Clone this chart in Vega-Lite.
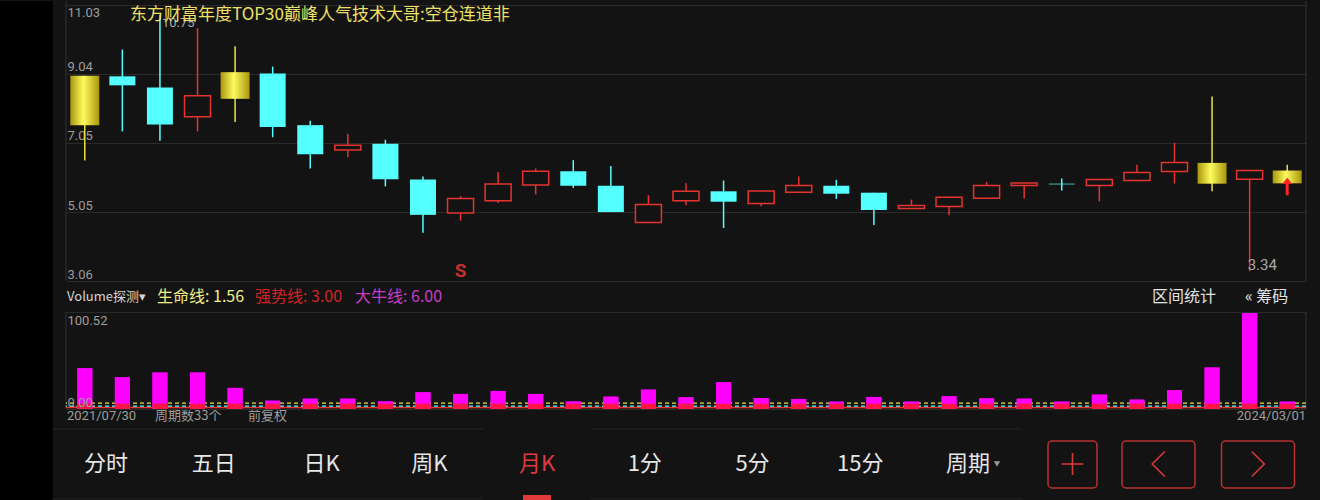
{
  "$schema": "https://vega.github.io/schema/vega-lite/v6.json",
  "background": "#131313",
  "padding": {"left": 0, "top": 0, "right": 14, "bottom": 0},
  "config": {
    "font": "Roboto",
    "view": {"stroke": null},
    "axis": {"labelFont": "Roboto", "labelFontSize": 13, "labelColor": "#9d9d9d", "ticks": false, "tickSize": 0, "domain": false, "gridColor": "#2a2a2a", "gridWidth": 1, "labelAlign": "left", "labelPadding": -1, "labelFlush": false, "labelOverlap": false},
    "text": {"font": "Noto Sans CJK SC"}
  },
  "datasets": {
    "candles": [
      {"idx": 1, "o": 7.56, "c": 8.99, "h": 8.99, "l": 6.54, "vol": 42.2, "kind": "gold"},
      {"idx": 2, "o": 8.97, "c": 8.71, "h": 9.74, "l": 7.38, "vol": 32.9, "kind": "down"},
      {"idx": 3, "o": 8.65, "c": 7.58, "h": 10.75, "l": 7.11, "vol": 37.8, "kind": "down"},
      {"idx": 4, "o": 7.80, "c": 8.41, "h": 10.36, "l": 7.38, "vol": 37.8, "kind": "up"},
      {"idx": 5, "o": 8.32, "c": 9.09, "h": 9.84, "l": 7.65, "vol": 21.9, "kind": "gold"},
      {"idx": 6, "o": 9.05, "c": 7.51, "h": 9.25, "l": 7.21, "vol": 8.6, "kind": "down"},
      {"idx": 7, "o": 7.56, "c": 6.72, "h": 7.69, "l": 6.31, "vol": 10.7, "kind": "down"},
      {"idx": 8, "o": 6.84, "c": 6.98, "h": 7.31, "l": 6.63, "vol": 10.7, "kind": "up"},
      {"idx": 9, "o": 7.02, "c": 6.00, "h": 7.14, "l": 5.79, "vol": 7.9, "kind": "down"},
      {"idx": 10, "o": 5.99, "c": 4.97, "h": 6.08, "l": 4.45, "vol": 17.3, "kind": "down"},
      {"idx": 11, "o": 5.02, "c": 5.44, "h": 5.51, "l": 4.80, "vol": 15.6, "kind": "up"},
      {"idx": 12, "o": 5.38, "c": 5.86, "h": 6.21, "l": 5.31, "vol": 18.7, "kind": "up"},
      {"idx": 13, "o": 5.83, "c": 6.23, "h": 6.31, "l": 5.56, "vol": 15.6, "kind": "up"},
      {"idx": 14, "o": 6.23, "c": 5.81, "h": 6.55, "l": 5.75, "vol": 7.9, "kind": "down"},
      {"idx": 15, "o": 5.81, "c": 5.05, "h": 6.38, "l": 5.05, "vol": 12.8, "kind": "down"},
      {"idx": 16, "o": 4.75, "c": 5.27, "h": 5.54, "l": 4.75, "vol": 20.1, "kind": "up"},
      {"idx": 17, "o": 5.38, "c": 5.65, "h": 5.88, "l": 5.25, "vol": 12.1, "kind": "up"},
      {"idx": 18, "o": 5.65, "c": 5.35, "h": 5.96, "l": 4.59, "vol": 27.7, "kind": "down"},
      {"idx": 19, "o": 5.30, "c": 5.66, "h": 5.66, "l": 5.22, "vol": 11.4, "kind": "up"},
      {"idx": 20, "o": 5.62, "c": 5.82, "h": 6.08, "l": 5.62, "vol": 10.4, "kind": "up"},
      {"idx": 21, "o": 5.81, "c": 5.58, "h": 5.98, "l": 5.43, "vol": 7.6, "kind": "down"},
      {"idx": 22, "o": 5.61, "c": 5.11, "h": 5.61, "l": 4.68, "vol": 12.5, "kind": "down"},
      {"idx": 23, "o": 5.15, "c": 5.24, "h": 5.41, "l": 5.15, "vol": 7.6, "kind": "up"},
      {"idx": 24, "o": 5.21, "c": 5.48, "h": 5.48, "l": 4.96, "vol": 13.1, "kind": "up"},
      {"idx": 25, "o": 5.45, "c": 5.82, "h": 5.92, "l": 5.45, "vol": 11.0, "kind": "up"},
      {"idx": 26, "o": 5.82, "c": 5.89, "h": 5.89, "l": 5.44, "vol": 10.7, "kind": "up"},
      {"idx": 27, "o": 5.87, "c": 5.85, "h": 6.02, "l": 5.67, "vol": 7.6, "kind": "down"},
      {"idx": 28, "o": 5.82, "c": 5.99, "h": 5.99, "l": 5.36, "vol": 14.9, "kind": "up"},
      {"idx": 29, "o": 5.96, "c": 6.19, "h": 6.42, "l": 5.94, "vol": 9.7, "kind": "up"},
      {"idx": 30, "o": 6.22, "c": 6.48, "h": 7.05, "l": 5.88, "vol": 19.4, "kind": "up"},
      {"idx": 31, "o": 5.87, "c": 6.47, "h": 8.39, "l": 5.65, "vol": 43.0, "kind": "gold"},
      {"idx": 32, "o": 6.00, "c": 6.25, "h": 6.25, "l": 3.34, "vol": 100.52, "kind": "up"},
      {"idx": 33, "o": 5.88, "c": 6.25, "h": 6.42, "l": 5.88, "vol": 7.6, "kind": "gold"}
    ],
    "lines": [
      {"name": "生命线", "v": 1.56},
      {"name": "强势线", "v": 3.00},
      {"name": "大牛线", "v": 6.00}
    ],
    "tabs": [
      {"tab": "分时"}, {"tab": "五日"}, {"tab": "日K"}, {"tab": "周K"}, {"tab": "月K"},
      {"tab": "1分"}, {"tab": "5分"}, {"tab": "15分"}, {"tab": "周期"}
    ],
    "buttons": [{"btn": "+"}, {"btn": "<"}, {"btn": ">"}]
  },
  "bounds": "flush",
  "spacing": 13,
  "hconcat": [
    {
      "width": 53,
      "height": 500,
      "view": {"fill": "#000000", "stroke": null},
      "data": {"values": []},
      "mark": "point"
    },
    {
      "bounds": "flush",
      "spacing": 31,
      "vconcat": [
        {
          "width": 1240,
          "height": 280,
          "data": {"name": "candles"},
          "layer": [
            {
              "mark": {"type": "rule", "strokeWidth": 1.5},
              "encoding": {
                "x": {"field": "idx", "type": "quantitative", "scale": {"domain": [0.5, 33.5], "nice": false, "zero": false, "padding": 0}, "axis": null},
                "y": {
                  "field": "l", "type": "quantitative",
                  "scale": {"domain": [3.06, 11.145], "nice": false, "zero": false, "padding": 0},
                  "axis": {
                    "values": [3.06, 5.05, 7.05, 9.04, 11.03], "format": ".2f", "grid": true, "title": null,
                    "labelBaseline": {"condition": {"test": "datum.value > 11", "value": "top"}, "value": "bottom"},
                    "labelOffset": {"condition": {"test": "datum.value > 11", "value": 2}, "value": 0}
                  }
                },
                "y2": {"field": "h"},
                "color": {"field": "kind", "type": "nominal", "scale": {"domain": ["up", "down", "gold"], "range": ["#e5332f", "#55ffff", "#ece23c"]}, "legend": null}
              }
            },
            {
              "data": {"values": [{}]},
              "mark": {"type": "rule", "color": "#333333", "strokeWidth": 1},
              "encoding": {"x": {"datum": 0.5, "type": "quantitative", "axis": null}}
            },
            {
              "data": {"values": [{}]},
              "mark": {"type": "rule", "color": "#333333", "strokeWidth": 1},
              "encoding": {"x": {"datum": 33.5, "type": "quantitative", "axis": null}}
            },
            {
              "transform": [{"filter": "datum.kind === 'down'"}],
              "mark": {"type": "bar", "width": 26, "color": "#55ffff"},
              "encoding": {
                "x": {"field": "idx", "type": "quantitative", "axis": null},
                "y": {"field": "o", "type": "quantitative"},
                "y2": {"field": "c"}
              }
            },
            {
              "transform": [{"filter": "datum.kind === 'up'"}],
              "mark": {"type": "bar", "width": 26, "fill": "#131313", "stroke": "#e5332f", "strokeWidth": 1.5},
              "encoding": {
                "x": {"field": "idx", "type": "quantitative", "axis": null},
                "y": {"field": "o", "type": "quantitative"},
                "y2": {"field": "c"}
              }
            },
            {
              "transform": [{"filter": "datum.kind === 'gold'"}],
              "mark": {
                "type": "bar", "width": 29,
                "fill": {"gradient": "linear", "x1": 0, "y1": 0, "x2": 1, "y2": 0,
                  "stops": [{"offset": 0, "color": "#a8960e"}, {"offset": 0.45, "color": "#fffb5c"}, {"offset": 1, "color": "#a8960e"}]}
              },
              "encoding": {
                "x": {"field": "idx", "type": "quantitative", "axis": null},
                "y": {"field": "o", "type": "quantitative"},
                "y2": {"field": "c"}
              }
            },
            {
              "transform": [{"joinaggregate": [{"op": "max", "field": "h", "as": "hmax"}]}, {"filter": "datum.h === datum.hmax"}],
              "mark": {"type": "text", "align": "left", "baseline": "top", "dx": 2, "dy": 2, "font": "Roboto", "fontSize": 13, "color": "#a8a8a8"},
              "encoding": {
                "x": {"field": "idx", "type": "quantitative", "axis": null},
                "y": {"field": "h", "type": "quantitative"},
                "text": {"field": "h", "type": "quantitative", "format": ".2f"}
              }
            },
            {
              "transform": [{"joinaggregate": [{"op": "min", "field": "l", "as": "lmin"}]}, {"filter": "datum.l === datum.lmin"}],
              "mark": {"type": "text", "align": "left", "baseline": "bottom", "dx": -2, "dy": 2, "font": "Roboto", "fontSize": 15, "color": "#a8a8a8"},
              "encoding": {
                "x": {"field": "idx", "type": "quantitative", "axis": null},
                "y": {"field": "l", "type": "quantitative"},
                "text": {"field": "l", "type": "quantitative", "format": ".2f"}
              }
            },
            {
              "data": {"values": [{}]},
              "mark": {"type": "text", "text": "S", "font": "Roboto", "fontSize": 19, "fontWeight": "bold", "color": "#c8302c", "baseline": "middle"},
              "encoding": {
                "x": {"datum": 11, "type": "quantitative", "axis": null},
                "y": {"datum": 3.348, "type": "quantitative"}
              }
            },
            {
              "data": {"values": [{}]},
              "mark": {"type": "point", "shape": "M0,-1L0.6,-0.3L0.17,-0.3L0.17,1L-0.17,1L-0.17,-0.3L-0.6,-0.3Z", "size": 300, "filled": true, "color": "#ff2626", "opacity": 1},
              "encoding": {
                "x": {"datum": 33, "type": "quantitative", "axis": null},
                "y": {"datum": 5.788, "type": "quantitative"}
              }
            },
            {
              "data": {"values": [{}]},
              "mark": {"type": "text", "text": "东方财富年度TOP30巅峰人气技术大哥:空仓连道非", "align": "left", "baseline": "middle", "fontSize": 17, "color": "#efe166"},
              "encoding": {
                "x": {"datum": 2.203, "type": "quantitative", "axis": null},
                "y": {"datum": 10.741, "type": "quantitative"}
              }
            }
          ]
        },
        {
          "bounds": "flush",
          "spacing": 22,
          "vconcat": [
            {
              "width": 1240,
              "height": 97,
              "data": {"name": "candles"},
              "layer": [
                {
                  "mark": {"type": "bar", "width": 15, "color": "#ff00ff"},
                  "encoding": {
                    "x": {"field": "idx", "type": "quantitative", "scale": {"domain": [0.5, 33.5], "nice": false, "zero": false, "padding": 0}, "axis": null},
                    "y": {
                      "field": "vol", "type": "quantitative",
                      "scale": {"domain": [0, 100.52], "nice": false, "zero": true, "padding": 0},
                      "axis": {
                        "values": [0, 100.52], "format": ".2f", "grid": true, "title": null, "zindex": 1,
                        "labelBaseline": {"condition": {"test": "datum.value > 50", "value": "top"}, "value": "bottom"},
                        "labelOffset": {"condition": {"test": "datum.value > 50", "value": 2}, "value": 0}
                      }
                    }
                  }
                },
                {
                  "data": {"values": [{}]},
                  "mark": {"type": "rule", "color": "#333333", "strokeWidth": 1},
                  "encoding": {"x": {"datum": 0.5, "type": "quantitative", "axis": null}}
                },
                {
                  "data": {"values": [{}]},
                  "mark": {"type": "rule", "color": "#333333", "strokeWidth": 1},
                  "encoding": {"x": {"datum": 33.5, "type": "quantitative", "axis": null}}
                },
                {
                  "data": {"name": "lines"},
                  "mark": {"type": "rule", "strokeWidth": 1.3},
                  "encoding": {
                    "y": {"field": "v", "type": "quantitative"},
                    "color": {"field": "name", "type": "nominal", "scale": {"domain": ["生命线", "强势线", "大牛线"], "range": ["#e0a628", "#c82828", "#d0a0d0"]}, "legend": null},
                    "strokeDash": {"field": "name", "type": "nominal", "scale": {"domain": ["生命线", "强势线", "大牛线"], "range": [[1, 0], [4, 3], [4, 3]]}, "legend": null}
                  }
                },
                {
                  "mark": {"type": "bar", "width": 15, "color": "#ff00ff"},
                  "encoding": {
                    "x": {"field": "idx", "type": "quantitative", "axis": null},
                    "y": {"field": "vol", "type": "quantitative"}
                  }
                },
                {
                  "mark": {"type": "bar", "width": 15, "color": "#ff1448"},
                  "encoding": {
                    "x": {"field": "idx", "type": "quantitative", "axis": null},
                    "y": {"datum": 5.5, "type": "quantitative"},
                    "y2": {"datum": 0}
                  }
                },
                {
                  "data": {"values": [{}]},
                  "mark": {"type": "text", "text": "Volume探测▾", "align": "left", "baseline": "middle", "dx": 1, "fontSize": 13, "color": "#d6d6d6"},
                  "encoding": {
                    "x": {"datum": 0.5, "type": "quantitative", "axis": null},
                    "y": {"datum": 116, "type": "quantitative"}
                  }
                },
                {
                  "data": {"name": "lines"},
                  "transform": [{"filter": "datum.name === '生命线'"}, {"calculate": "datum.name + ': ' + format(datum.v, '.2f')", "as": "label"}],
                  "mark": {"type": "text", "align": "left", "baseline": "middle", "fontSize": 16, "color": "#f2ef86"},
                  "encoding": {
                    "x": {"datum": 2.922, "type": "quantitative", "axis": null},
                    "y": {"datum": 116, "type": "quantitative"},
                    "text": {"field": "label"}
                  }
                },
                {
                  "data": {"name": "lines"},
                  "transform": [{"filter": "datum.name === '强势线'"}, {"calculate": "datum.name + ': ' + format(datum.v, '.2f')", "as": "label"}],
                  "mark": {"type": "text", "align": "left", "baseline": "middle", "fontSize": 16, "color": "#cf2424"},
                  "encoding": {
                    "x": {"datum": 5.53, "type": "quantitative", "axis": null},
                    "y": {"datum": 116, "type": "quantitative"},
                    "text": {"field": "label"}
                  }
                },
                {
                  "data": {"name": "lines"},
                  "transform": [{"filter": "datum.name === '大牛线'"}, {"calculate": "datum.name + ': ' + format(datum.v, '.2f')", "as": "label"}],
                  "mark": {"type": "text", "align": "left", "baseline": "middle", "fontSize": 16, "color": "#c83cc8"},
                  "encoding": {
                    "x": {"datum": 8.191, "type": "quantitative", "axis": null},
                    "y": {"datum": 116, "type": "quantitative"},
                    "text": {"field": "label"}
                  }
                },
                {
                  "data": {"values": [{}]},
                  "mark": {"type": "text", "text": "区间统计", "align": "left", "baseline": "middle", "fontSize": 16, "color": "#e2e2e2"},
                  "encoding": {
                    "x": {"datum": 29.4, "type": "quantitative", "axis": null},
                    "y": {"datum": 116, "type": "quantitative"}
                  }
                },
                {
                  "data": {"values": [{}]},
                  "mark": {"type": "text", "text": "« 筹码", "align": "left", "baseline": "middle", "fontSize": 16, "color": "#e2e2e2"},
                  "encoding": {
                    "x": {"datum": 31.876, "type": "quantitative", "axis": null},
                    "y": {"datum": 116, "type": "quantitative"}
                  }
                },
                {
                  "data": {"values": [{}]},
                  "mark": {"type": "text", "text": "2021/07/30", "align": "left", "baseline": "middle", "dx": 1, "font": "Roboto", "fontSize": 13, "color": "#9d9d9d"},
                  "encoding": {
                    "x": {"datum": 0.5, "type": "quantitative", "axis": null},
                    "y": {"datum": -7.3, "type": "quantitative"}
                  }
                },
                {
                  "data": {"values": [{}]},
                  "mark": {"type": "text", "text": "周期数33个", "align": "left", "baseline": "middle", "fontSize": 13, "color": "#9d9d9d"},
                  "encoding": {
                    "x": {"datum": 2.869, "type": "quantitative", "axis": null},
                    "y": {"datum": -7.3, "type": "quantitative"}
                  }
                },
                {
                  "data": {"values": [{}]},
                  "mark": {"type": "text", "text": "前复权", "align": "left", "baseline": "middle", "fontSize": 13, "color": "#9d9d9d"},
                  "encoding": {
                    "x": {"datum": 5.344, "type": "quantitative", "axis": null},
                    "y": {"datum": -7.3, "type": "quantitative"}
                  }
                },
                {
                  "data": {"values": [{}]},
                  "mark": {"type": "text", "text": "2024/03/01", "align": "right", "baseline": "middle", "font": "Roboto", "fontSize": 13, "color": "#9d9d9d"},
                  "encoding": {
                    "x": {"datum": 33.5, "type": "quantitative", "axis": null},
                    "y": {"datum": -7.3, "type": "quantitative"}
                  }
                }
              ]
            },
            {
              "bounds": "flush",
              "spacing": 0,
              "hconcat": [
                {
                  "width": 942,
                  "height": 70,
                  "data": {"name": "tabs"},
                  "layer": [
                    {
                      "transform": [{"filter": "datum.tab !== '月K'"}],
                      "mark": {"type": "rule", "color": "#262626", "strokeWidth": 1, "xOffset": -53.85, "x2Offset": 53.85},
                      "encoding": {
                        "x": {"field": "tab", "type": "nominal", "scale": {"type": "point", "padding": 0.3714, "domain": ["分时", "五日", "日K", "周K", "月K", "1分", "5分", "15分", "周期"]}, "axis": null},
                        "x2": {"field": "tab"},
                        "y": {"datum": 1.029, "type": "quantitative", "scale": {"domain": [0, 1], "nice": false, "zero": false}, "axis": null}
                      }
                    },
                    {
                      "transform": [{"filter": "datum.tab !== '月K'"}],
                      "mark": {"type": "rule", "color": "#222222", "strokeWidth": 1, "xOffset": -53.85, "x2Offset": 53.85},
                      "encoding": {
                        "x": {"field": "tab", "type": "nominal", "axis": null},
                        "x2": {"field": "tab"},
                        "y": {"datum": 0.03, "type": "quantitative", "axis": null}
                      }
                    },
                    {
                      "mark": {"type": "text", "fontSize": 22, "baseline": "middle"},
                      "encoding": {
                        "x": {"field": "tab", "type": "nominal", "axis": null},
                        "y": {"datum": 0.529, "type": "quantitative", "axis": null},
                        "text": {"field": "tab"},
                        "color": {"condition": {"test": "datum.tab === '月K'", "value": "#e2393b"}, "value": "#e6e6e6"}
                      }
                    },
                    {
                      "data": {"values": [{}]},
                      "mark": {"type": "point", "shape": "triangle-down", "size": 40, "filled": true, "color": "#9a9a9a", "opacity": 1, "xOffset": 29},
                      "encoding": {
                        "x": {"datum": "周期", "type": "nominal", "axis": null},
                        "y": {"datum": 0.53, "type": "quantitative", "axis": null}
                      }
                    },
                    {
                      "data": {"values": [{}]},
                      "mark": {"type": "bar", "width": 28, "color": "#e2393b"},
                      "encoding": {
                        "x": {"datum": "月K", "type": "nominal", "axis": null},
                        "y": {"datum": 0.086, "type": "quantitative", "axis": null},
                        "y2": {"datum": 0}
                      }
                    }
                  ]
                },
                {
                  "width": 298,
                  "height": 70,
                  "data": {"name": "buttons"},
                  "layer": [
                    {
                      "transform": [{"filter": "datum.btn === '+'"}],
                      "mark": {"type": "bar", "width": 49, "fill": "#131313", "fillOpacity": 0, "stroke": "#b83232", "strokeWidth": 1.5, "cornerRadius": 4, "xOffset": 13.5},
                      "encoding": {
                        "x": {"field": "btn", "type": "nominal", "scale": {"type": "point", "padding": 0.4975, "align": 0.5152, "domain": ["+", "<", ">"]}, "axis": null},
                        "y": {"datum": 0.857, "type": "quantitative", "scale": {"domain": [0, 1], "nice": false, "zero": false}, "axis": null},
                        "y2": {"datum": 0.186}
                      }
                    },
                    {
                      "transform": [{"filter": "datum.btn !== '+'"}],
                      "mark": {"type": "bar", "width": 73, "fill": "#131313", "fillOpacity": 0, "stroke": "#b83232", "strokeWidth": 1.5, "cornerRadius": 4},
                      "encoding": {
                        "x": {"field": "btn", "type": "nominal", "axis": null},
                        "y": {"datum": 0.857, "type": "quantitative", "axis": null},
                        "y2": {"datum": 0.186}
                      }
                    },
                    {
                      "transform": [{"filter": "datum.btn === '+'"}],
                      "mark": {"type": "point", "shape": "M-1,0L1,0M0,-1L0,1", "size": 484, "filled": false, "stroke": "#d83a3a", "strokeWidth": 1.6, "opacity": 1, "xOffset": 13.5},
                      "encoding": {
                        "x": {"field": "btn", "type": "nominal", "axis": null},
                        "y": {"datum": 0.529, "type": "quantitative", "axis": null}
                      }
                    },
                    {
                      "transform": [{"filter": "datum.btn !== '+'"}],
                      "mark": {"type": "point", "size": 625, "filled": false, "stroke": "#d83a3a", "strokeWidth": 1.6, "opacity": 1},
                      "encoding": {
                        "x": {"field": "btn", "type": "nominal", "axis": null},
                        "y": {"datum": 0.529, "type": "quantitative", "axis": null},
                        "shape": {"field": "btn", "type": "nominal", "scale": {"domain": ["<", ">"], "range": ["M0.5,-1L-0.5,0L0.5,1", "M-0.5,-1L0.5,0L-0.5,1"]}, "legend": null}
                      }
                    }
                  ]
                }
              ]
            }
          ]
        }
      ]
    }
  ]
}
